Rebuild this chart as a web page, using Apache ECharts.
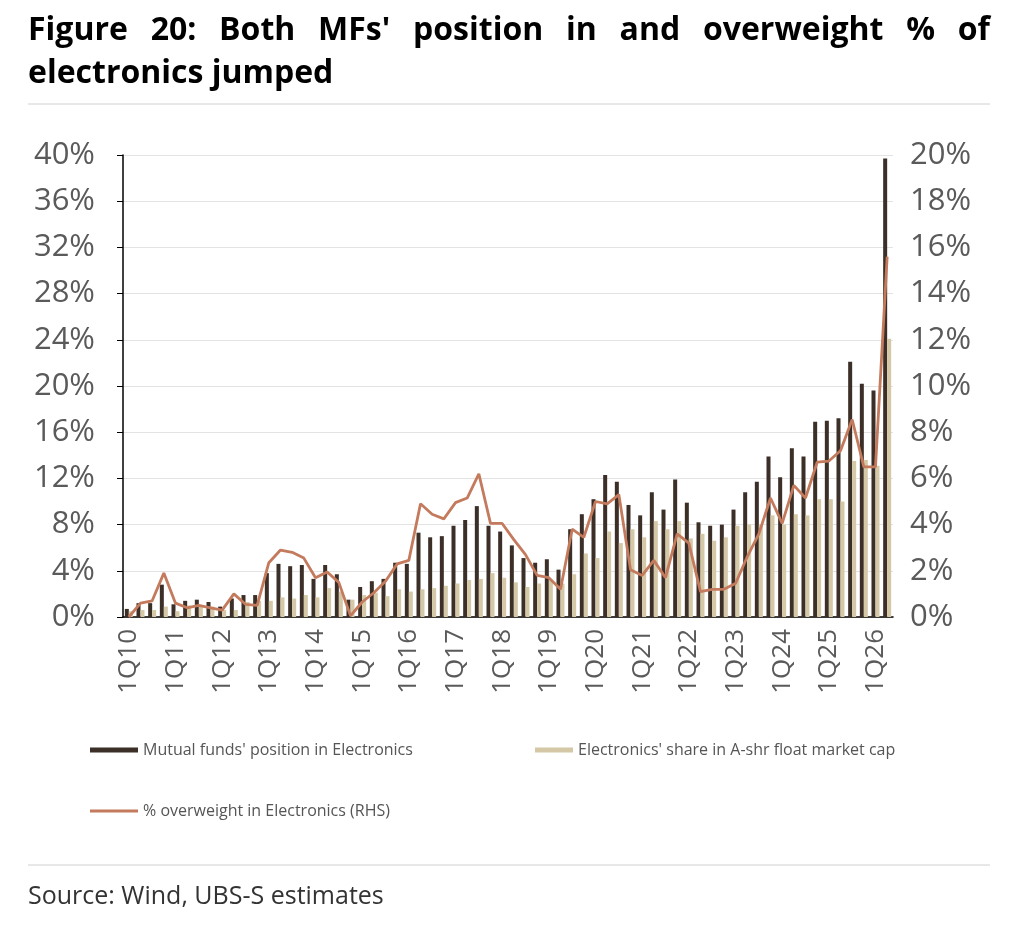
<!DOCTYPE html>
<html>
<head>
<meta charset="utf-8">
<script src="https://cdn.jsdelivr.net/npm/echarts@6/dist/echarts.min.js"></script>
<style>
html, body { margin: 0; padding: 0; background: #fff; }
#chart { width: 1036px; height: 926px; }
</style>
</head>
<body>
<div id="chart"></div>
<script>
// quarters, 1Q10 .. 2Q26
var quarters = [
	'1Q10','2Q10','3Q10','4Q10','1Q11','2Q11','3Q11','4Q11',
	'1Q12','2Q12','3Q12','4Q12','1Q13','2Q13','3Q13','4Q13',
	'1Q14','2Q14','3Q14','4Q14','1Q15','2Q15','3Q15','4Q15',
	'1Q16','2Q16','3Q16','4Q16','1Q17','2Q17','3Q17','4Q17',
	'1Q18','2Q18','3Q18','4Q18','1Q19','2Q19','3Q19','4Q19',
	'1Q20','2Q20','3Q20','4Q20','1Q21','2Q21','3Q21','4Q21',
	'1Q22','2Q22','3Q22','4Q22','1Q23','2Q23','3Q23','4Q23',
	'1Q24','2Q24','3Q24','4Q24','1Q25','2Q25','3Q25','4Q25',
	'1Q26','2Q26'
];

// Mutual funds' position in Electronics (%)
var mfPosition = [
	0.7, 1.2, 1.2, 2.8, 1.1, 1.4, 1.5, 1.3,
	0.9, 1.6, 1.9, 1.9, 3.8, 4.6, 4.4, 4.5,
	3.3, 4.5, 3.7, 1.5, 2.6, 3.1, 3.3, 4.7,
	4.6, 7.3, 6.9, 7.0, 7.9, 8.4, 9.6, 7.9,
	7.4, 6.2, 5.1, 4.7, 5.0, 4.1, 7.6, 8.9,
	10.2, 12.3, 11.7, 9.7, 8.8, 10.8, 9.3, 11.9,
	9.9, 8.2, 7.9, 8.0, 9.3, 10.8, 11.7, 13.9,
	12.1, 14.6, 13.9, 16.9, 17.0, 17.2, 22.1, 20.2,
	19.6, 39.7
];

// Electronics' share in A-shr float market cap (%)
var mktShare = [
	0.5, 0.6, 0.6, 0.9, 0.5, 1.0, 1.0, 0.9,
	0.6, 0.6, 1.3, 1.4, 1.4, 1.7, 1.6, 1.9,
	1.7, 2.5, 2.2, 1.5, 1.9, 2.1, 1.8, 2.4,
	2.2, 2.4, 2.5, 2.7, 2.9, 3.2, 3.3, 3.8,
	3.4, 3.0, 2.6, 2.9, 3.2, 2.9, 3.7, 5.5,
	5.1, 7.4, 6.4, 7.6, 6.9, 8.3, 7.6, 8.3,
	6.8, 7.2, 6.6, 6.9, 7.9, 8.0, 8.0, 8.8,
	8.0, 8.9, 8.8, 10.2, 10.2, 10.0, 13.5, 13.6,
	13.1, 24.1
];

// % overweight in Electronics, RHS (%)
var overweight = [
	0.0, 0.6, 0.7, 1.9, 0.6, 0.4, 0.5, 0.4,
	0.3, 1.0, 0.55, 0.5, 2.35, 2.9, 2.8, 2.55,
	1.7, 1.95, 1.5, 0.05, 0.65, 1.05, 1.55, 2.3,
	2.45, 4.9, 4.45, 4.25, 4.95, 5.15, 6.2, 4.05,
	4.05, 3.35, 2.7, 1.8, 1.7, 1.2, 3.8, 3.45,
	5.0, 4.9, 5.3, 2.05, 1.8, 2.45, 1.7, 3.6,
	3.2, 1.1, 1.2, 1.2, 1.45, 2.6, 3.6, 5.15,
	4.05, 5.7, 5.15, 6.7, 6.75, 7.2, 8.55, 6.5,
	6.5, 15.6
];

var seriesNames = [
	"Mutual funds' position in Electronics",
	"Electronics' share in A-shr float market cap",
	"% overweight in Electronics (RHS)"
];

var titleLine1 = "Figure 20: Both MFs' position in and overweight % of";
var titleLine2 = 'electronics jumped';
var sourceText = 'Source: Wind, UBS-S estimates';

var colors = ['#3b2f27', '#d4c8a6', '#c47a5c'];
var fontFamily = '"Open Sans", "Noto Sans", sans-serif';
var titleFont = 'bold 32px ' + fontFamily;
var axisText = { color: '#5a5a5a', fontSize: 31, fontFamily: fontFamily };
var legendText = { color: '#555', fontSize: 16, fontFamily: fontFamily };

// title line 1 is justified from x=28 to x=990
function justifiedWords(text, left, right, top, font){
	var ctx = document.createElement('canvas').getContext('2d');
	ctx.font = font;
	var words = text.split(' '),
	    widths = words.map(function(w){ return ctx.measureText(w).width; }),
	    total = widths.reduce(function(a, b){ return a + b; }, 0),
	    gap = (right - left - total) / (words.length - 1),
	    x = left,
	    out = [];
	words.forEach(function(w, i){
		out.push({ type: 'text', x: x, y: top, style: { text: w, fill: '#000', font: font } });
		x += widths[i] + gap;
	});
	return out;
}

var graphics = justifiedWords(titleLine1, 28, 990, 15, titleFont).concat([
	{
		type: 'text', x: 28, y: 58,
		style: { text: titleLine2, fill: '#000', font: titleFont }
	},
	{
		type: 'line', shape: { x1: 28, y1: 104, x2: 990, y2: 104 },
		style: { stroke: '#d0d0d0', lineWidth: 1 }
	},
	{
		type: 'line', shape: { x1: 28, y1: 865, x2: 990, y2: 865 },
		style: { stroke: '#d0d0d0', lineWidth: 1 }
	},
	{
		type: 'text', x: 28, y: 884,
		style: { text: sourceText, fill: '#333', font: '25px ' + fontFamily }
	}
]);

var myChart = echarts.init(document.getElementById('chart'));

var option = {
	animation: false,
	backgroundColor: '#fff',
	color: colors,
	graphic: graphics,
	legend: [
		{
			left: 85, top: 737, itemWidth: 48, itemHeight: 5, itemGap: 6,
			icon: 'rect', textStyle: legendText, data: [seriesNames[0]]
		},
		{
			left: 530, top: 737, itemWidth: 38, itemHeight: 5, itemGap: 6,
			icon: 'rect', textStyle: legendText, data: [seriesNames[1]]
		},
		{
			left: 85, top: 798, itemWidth: 48, itemHeight: 3, itemGap: 6,
			icon: 'rect', textStyle: legendText, data: [seriesNames[2]]
		}
	],
	grid: { left: 123, right: 143, top: 155, bottom: 309 },
	xAxis: {
		type: 'category',
		data: quarters,
		boundaryGap: true,
		axisLine: { lineStyle: { color: '#000', width: 1.5 } },
		axisTick: { show: false },
		axisLabel: Object.assign({ interval: 3, rotate: 90, margin: 12 }, axisText, { fontSize: 26 })
	},
	yAxis: [
		{
			type: 'value', min: 0, max: 40, interval: 4,
			axisLine: { show: true, lineStyle: { color: '#000', width: 1.5 } },
			axisTick: { show: true, length: 6, lineStyle: { color: '#000' } },
			axisLabel: Object.assign({ formatter: '{value}%', margin: 28 }, axisText),
			splitLine: { lineStyle: { color: '#e3e3e3', width: 1 } }
		},
		{
			type: 'value', min: 0, max: 20, interval: 2,
			axisLine: { show: false },
			axisTick: { show: false },
			axisLabel: Object.assign({ formatter: '{value}%', margin: 17 }, axisText),
			splitLine: { show: false }
		}
	],
	series: [
		{
			name: seriesNames[0], type: 'bar', data: mfPosition,
			barWidth: 4, barGap: '0%',
			itemStyle: { color: colors[0] }
		},
		{
			name: seriesNames[1], type: 'bar', data: mktShare,
			barWidth: 4, barGap: '0%',
			itemStyle: { color: colors[1] }
		},
		{
			name: seriesNames[2], type: 'line', yAxisIndex: 1, data: overweight,
			symbol: 'none', smooth: false,
			lineStyle: { color: colors[2], width: 2.8 },
			itemStyle: { color: colors[2] },
			z: 5
		}
	]
};

myChart.setOption(option);
</script>
</body>
</html>
